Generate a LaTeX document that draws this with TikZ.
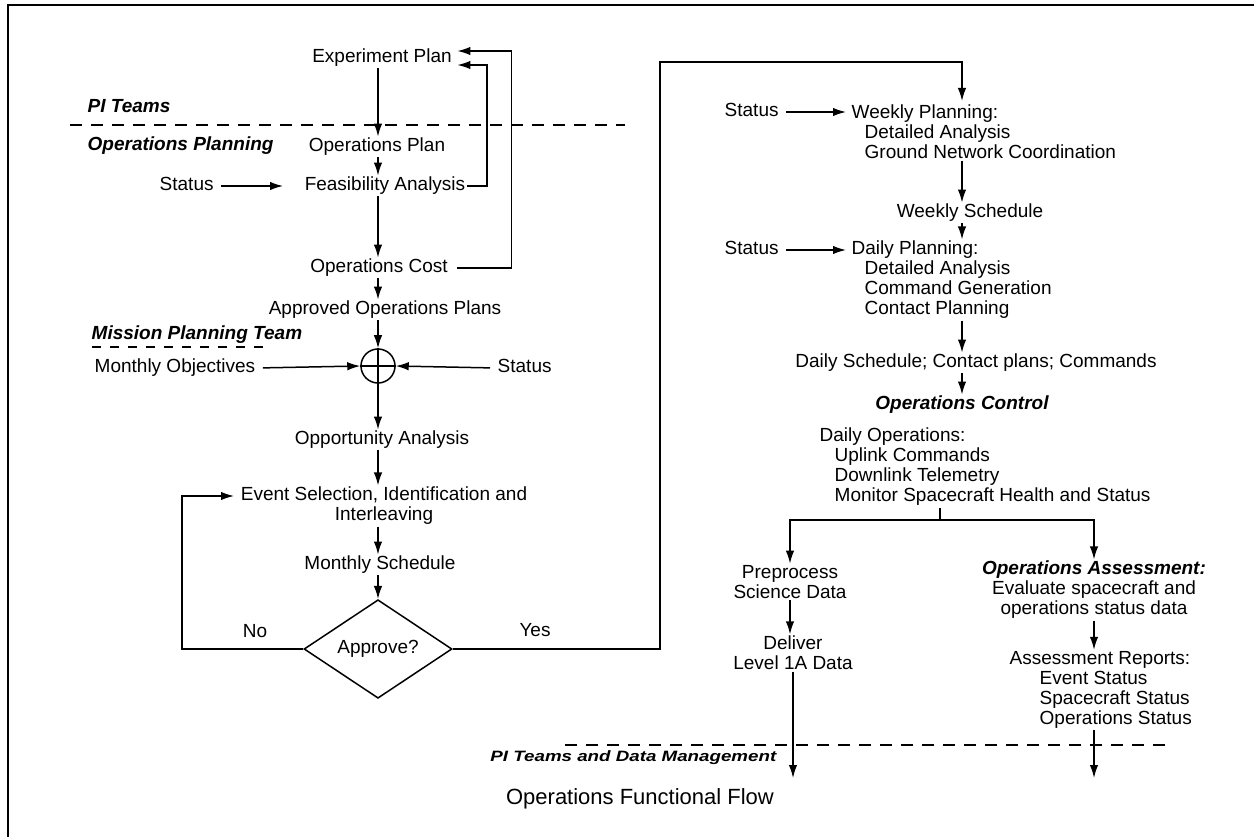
\documentclass[tikz,border=0pt]{standalone}
\usepackage{fontspec}
\setmainfont{Liberation Sans}
\usepackage{graphicx}
\usetikzlibrary{arrows.meta,shapes.geometric,calc}
\begin{document}
\begin{tikzpicture}[x=1pt,y=-1pt,
  every node/.style={font=\fontsize{19}{20}\selectfont, inner sep=1.5pt},
  lbl/.style={text height=13.5pt,text depth=4pt},
  team/.style={font=\fontsize{19}{20}\selectfont\bfseries\itshape},
  arr/.style={line width=1.5pt, -{Latex[length=13pt,width=8.5pt]}},
  ln/.style={line width=1.5pt},
  dsh/.style={line width=1.5pt, dash pattern=on 12pt off 9pt},
  decision/.style={diamond, draw, line width=1.5pt, inner sep=0pt, minimum width=148pt, minimum height=86pt},
  junction/.style={circle, draw, line width=1.5pt, minimum size=34pt, inner sep=0pt}
]
\useasboundingbox (0,0) rectangle (1254,837);
\draw[line width=2pt] (8,837) -- (8,5) -- (1254,5);

\coordinate (colL) at (378,0);
\coordinate (colR) at (962,0);

% ---------------- left column ----------------
\node[lbl] (exp) at (382,58) {Experiment Plan};
\node[lbl,team,anchor=west] (piteams) at (86,108) {PI Teams};
\node[lbl,team,anchor=west] (opsplan) at (86,146) {Operations Planning};
\node[lbl] (ops) at (377,147) {Operations Plan};
\node[lbl] (feas) at (385,186) {Feasibility Analysis};
\node[lbl,anchor=west] (st1) at (158,186) {Status};
\node[lbl] (cost) at (379,268) {Operations Cost};
\node[lbl] (appr) at (385,310) {Approved Operations Plans};
\node[junction] (sum) at (378,366) {};
\draw[ln] (sum.north) -- (sum.south) (sum.west) -- (sum.east);
\node[lbl,team,anchor=west] (mpt) at (90,335) {Mission Planning Team};
\node[lbl,anchor=west] (mobj) at (93,368) {Monthly Objectives};
\node[lbl,anchor=west] (st2) at (496,368) {Status};
\node[lbl] (opp) at (382,440) {Opportunity Analysis};
\node[align=center] (evt) at (384,506) {Event Selection, Identification and\\Interleaving};
\coordinate (evtin) at (234,496);
\node[lbl] (msch) at (380,565) {Monthly Schedule};
\node[decision] (dia) at (378,649) {Approve?};
\node[lbl] (no) at (255,633) {No};
\node[lbl] (yes) at (535,632) {Yes};

\draw[dsh] (70,125) -- (625,125);
\draw[dsh, dash pattern=on 9pt off 9pt] (92,347) -- (267,347);

\draw[arr] (exp.south -| colL) -- (ops.north -| colL);
\draw[arr] (ops.south -| colL) -- (feas.north -| colL);
\draw[arr] (feas.south -| colL) -- (cost.north -| colL);
\draw[arr] (cost.south -| colL) -- (appr.north -| colL);
\draw[arr] (appr.south -| colL) -- (sum.north);
\draw[arr] (sum.south) -- (opp.north -| colL);
\draw[arr] (opp.south -| colL) -- (evt.north -| colL);
\draw[arr] (evt.south -| colL) -- (msch.north -| colL);
\draw[arr] (msch.south -| colL) -- (dia.north);

\draw[arr, shorten <=6pt, shorten >=20pt] (st1.east) -- (feas.west);
\draw[arr, shorten <=6pt] (mobj.east) -- (sum.west);
\draw[arr, shorten <=6pt] (st2.west) -- (sum.east);

\draw[arr] (feas.east) -- ++(20,0) |- ($(exp.east)+(4,7)$);
\draw[arr, shorten <=8pt] (cost.east) -- ++(62,0) |- ($(exp.east)+(4,-7)$);

\draw[arr] (dia.west) -- (182,649) |- (evtin);
\coordinate (yturn) at (660,62);
\draw[arr] (dia.east) -| (yturn) -- (yturn -| colR) -- (colR |- 0,101);

% ---------------- right column ----------------
\node[lbl,anchor=west] (st3) at (723,112) {Status};
\node[anchor=west,align=left] (wk) at (850,132) {Weekly Planning:\\\hspace*{13pt}Detailed Analysis\\\hspace*{13pt}Ground Network Coordination};
\draw[arr, shorten <=6pt, shorten >=4pt] (st3.east) -- (st3.east -| wk.west);
\node[lbl] (wsch) at (970,213) {Weekly Schedule};
\draw[arr] (wk.south -| colR) -- (wsch.north -| colR);
\node[lbl,anchor=west] (st4) at (723,250) {Status};
\node[anchor=west,align=left] (dp) at (850,280) {Daily Planning:\\\hspace*{13pt}Detailed Analysis\\\hspace*{13pt}Command Generation\\\hspace*{13pt}Contact Planning};
\draw[arr] (wsch.south -| colR) -- (dp.north -| colR);
\draw[arr, shorten <=6pt, shorten >=4pt] (st4.east) -- (st4.east -| dp.west);
\node[lbl] (dsch) at (976,363) {Daily Schedule; Contact plans; Commands};
\draw[arr] (dp.south -| colR) -- (dsch.north -| colR);
\node[lbl,team] (octl) at (962,405) {Operations Control};
\draw[arr] (dsch.south -| colR) -- (octl.north -| colR);
\node[anchor=west,align=left] (dops) at (818,467) {Daily Operations:\\\hspace*{15pt}Uplink Commands\\\hspace*{15pt}Downlink Telemetry\\\hspace*{15pt}Monitor Spacecraft Health and Status};
\coordinate (split) at (940,520);
\draw[ln] (dops.south -| split) -- (split);
\node[align=center] (pre) at (790,582) {Preprocess\\Science Data};
\node[align=center] (oa) at (1094,590) {{\bfseries\itshape Operations Assessment:}\\Evaluate spacecraft and\\operations status data};
\draw[arr] (split) -| (pre.north);
\draw[arr] (split) -| (oa.north);
\node[align=center] (del) at (793,653) {Deliver\\Level 1A Data};
\draw[arr] (pre.south) -- (pre.south |- del.north);
\node[anchor=west,align=left] (rep) at (1008,690) {Assessment Reports:\\\hspace*{30pt}Event Status\\\hspace*{30pt}Spacecraft Status\\\hspace*{30pt}Operations Status};
\draw[arr] (oa.south) -- (oa.south |- rep.north);
\coordinate (endL) at (793,778);
\draw[arr] (del.south) -- (del.south |- endL);
\draw[arr] (rep.south -| oa.south) -- (oa.south |- endL);
\draw[dsh] (565,745) -- (1170,745);
\node[lbl,anchor=east,font=\fontsize{15}{18}\selectfont\bfseries\itshape] (pidm) at (778,757) {\scalebox{1.25}[1]{PI Teams and Data Management}};
\node[lbl,font=\fontsize{22}{26}\selectfont] (title) at (640,800) {Operations Functional Flow};
\end{tikzpicture}
\end{document}
